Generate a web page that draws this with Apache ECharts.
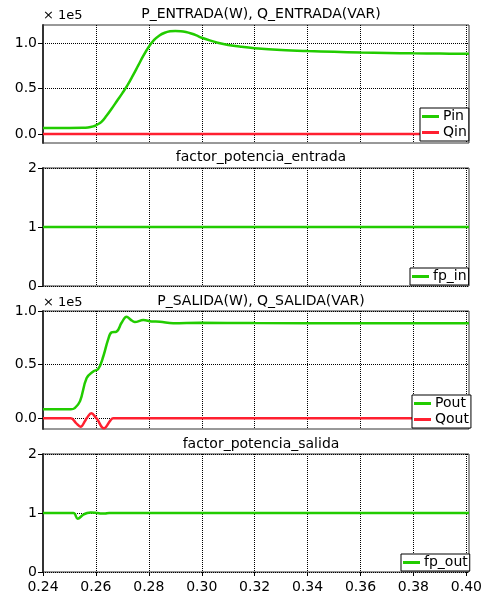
<!DOCTYPE html>
<html><head><meta charset="utf-8">
<script src="https://cdn.jsdelivr.net/npm/echarts@6/dist/echarts.min.js"></script>
<style>html,body{margin:0;padding:0;background:#fff}#c{width:486px;height:594px}</style>
</head><body><div id="c"></div>
<script>
// ---- data (power values in units of 1e5) ----
var xTicks = [0.24,0.26,0.28,0.30,0.32,0.34,0.36,0.38,0.40];
var yTicksP = [0,0.5,1];
var yTicksFp = [0,1,2];
var titles = ['P_ENTRADA(W), Q_ENTRADA(VAR)','factor_potencia_entrada','P_SALIDA(W), Q_SALIDA(VAR)','factor_potencia_salida'];

var tPin = [0.24,0.25,0.255,0.257,0.259,0.26,0.262,0.264,0.266,0.268,0.27,0.272,0.274,0.276,0.278,0.28,0.282,0.284,0.286,0.288,0.29,0.292,0.294,0.296,0.298,0.30,0.303,0.306,0.31,0.315,0.32,0.33,0.34,0.35,0.36,0.37,0.38,0.39,0.40,0.401];
var vPin = [0.066,0.066,0.067,0.071,0.083,0.095,0.13,0.2,0.28,0.365,0.45,0.54,0.645,0.755,0.865,0.96,1.035,1.085,1.115,1.131,1.135,1.132,1.122,1.106,1.085,1.06,1.03,1.005,0.98,0.96,0.945,0.925,0.913,0.905,0.897,0.892,0.888,0.885,0.882,0.882];
var tQin = [0.24,0.401];
var vQin = [0,0];
var tFpIn = [0.24,0.401];
var vFpIn = [1,1];

var tPout = [0.24,0.2505,0.252,0.254,0.2565,0.259,0.2609,0.2628,0.2646,0.2659,0.2678,0.2697,0.2716,0.2731,0.2747,0.2779,0.281,0.2842,0.2892,0.2992,0.32,0.36,0.401];
var vPout = [0.084,0.084,0.095,0.16,0.375,0.437,0.46,0.578,0.734,0.80,0.807,0.89,0.947,0.92,0.897,0.915,0.903,0.90,0.885,0.89,0.887,0.886,0.886];
var tQout = [0.24,0.2505,0.2525,0.2542,0.256,0.2565,0.2583,0.26,0.2605,0.263,0.2655,0.2665,0.401];
var vQout = [0,0,-0.045,-0.079,-0.02,0,0.047,0.005,-0.01,-0.094,-0.02,0,0];
var tFpOut = [0.24,0.2515,0.2531,0.2552,0.2567,0.258,0.2605,0.262,0.2635,0.265,0.401];
var vFpOut = [1,1,0.904,0.97,1.0,1.01,1.0,0.99,0.993,1,1];

function zip(t,v){return t.map(function(x,i){return [x,v[i]];});}

var GREEN = '#22cc00', RED = '#ff2030';
var FONT = 'DejaVu Sans';
var grids = [
  {left:43,top:25,width:426,height:118},
  {left:43,top:168,width:426,height:118},
  {left:43,top:311,width:426,height:118},
  {left:43,top:454,width:426,height:119}
];
var ranges = [[-0.1,1.2],[0,2],[-0.1,1.0],[0,2]];
var gridOpts = grids.map(function(g){return Object.assign({show:true,borderColor:'#333',borderWidth:1,backgroundColor:'#fff',containLabel:false},g);});

var gridLine = {show:true,lineStyle:{color:'#000',width:1,type:[1,1]}};
var xAxes = grids.map(function(g,i){
  return {type:'value',gridIndex:i,min:0.24,max:0.401,
    axisLine:{show:false},
    axisTick:{show:i===3,customValues:xTicks,length:4,inside:false,lineStyle:{color:'#000'}},
    axisLabel:{show:i===3,customValues:xTicks,margin:8,fontFamily:FONT,fontSize:14,color:'#000',formatter:function(v){return v.toFixed(2);}},
    splitLine:gridLine};
});
var yAxes = grids.map(function(g,i){
  var isP = (i===0||i===2);
  var ticks = isP?yTicksP:yTicksFp;
  return {type:'value',gridIndex:i,min:ranges[i][0],max:ranges[i][1],
    axisLine:{show:true,onZero:false,lineStyle:{color:'#333',width:2}},
    axisTick:{show:true,customValues:ticks,length:5,lineStyle:{color:'#000'}},
    axisLabel:{customValues:ticks,margin:6,fontFamily:FONT,fontSize:14,color:'#000',
      formatter:function(v){return isP?v.toFixed(1):String(Math.round(v));}},
    splitLine:gridLine};
});
function ln(name,data,color,idx){
  return {name:name,type:'line',xAxisIndex:idx,yAxisIndex:idx,data:data,symbol:'none',smooth:0.4,
    lineStyle:{color:color,width:2.5},itemStyle:{color:color},clip:true,animation:false,z:3};
}
var series = [
  ln('Qin',zip(tQin,vQin),RED,0),
  ln('Pin',zip(tPin,vPin),GREEN,0),
  ln('fp_in',zip(tFpIn,vFpIn),GREEN,1),
  ln('Qout',zip(tQout,vQout),RED,2),
  ln('Pout',zip(tPout,vPout),GREEN,2),
  ln('fp_out',zip(tFpOut,vFpOut),GREEN,3)
];
function lg(data,left,top){
  return {data:data,orient:'vertical',left:left,top:top,icon:'rect',itemWidth:17,itemHeight:3,itemGap:1,
    padding:[1,2,1,2],backgroundColor:'#fff',borderColor:'#000',borderWidth:1,borderRadius:0,
    textStyle:{fontFamily:FONT,fontSize:14,color:'#000',lineHeight:15,padding:[0,0,0,-1]},selectedMode:false,z:10};
}
var titleTops = [7,150,294,437];
var option = {
  animation:false,
  title:titles.map(function(t,i){return {text:t,left:261,top:titleTops[i],textAlign:'center',padding:0,
    textStyle:{fontFamily:FONT,fontSize:14,fontWeight:'normal',color:'#000'}};}),
  grid:gridOpts,
  xAxis:xAxes,
  yAxis:yAxes,
  legend:[lg(['Pin','Qin'],420,108),lg(['fp_in'],410,268),lg(['Pout','Qout'],412,395),lg(['fp_out'],401,554)],
  graphic:[
    {type:'text',left:43,top:9,style:{text:'× 1e5',fontFamily:FONT,fontSize:13,fill:'#000'}},
    {type:'text',left:43,top:296,style:{text:'× 1e5',fontFamily:FONT,fontSize:13,fill:'#000'}}
  ],
  series:series
};
var chart = echarts.init(document.getElementById('c'),null,{renderer:'canvas'});
chart.setOption(option);
</script></body></html>
